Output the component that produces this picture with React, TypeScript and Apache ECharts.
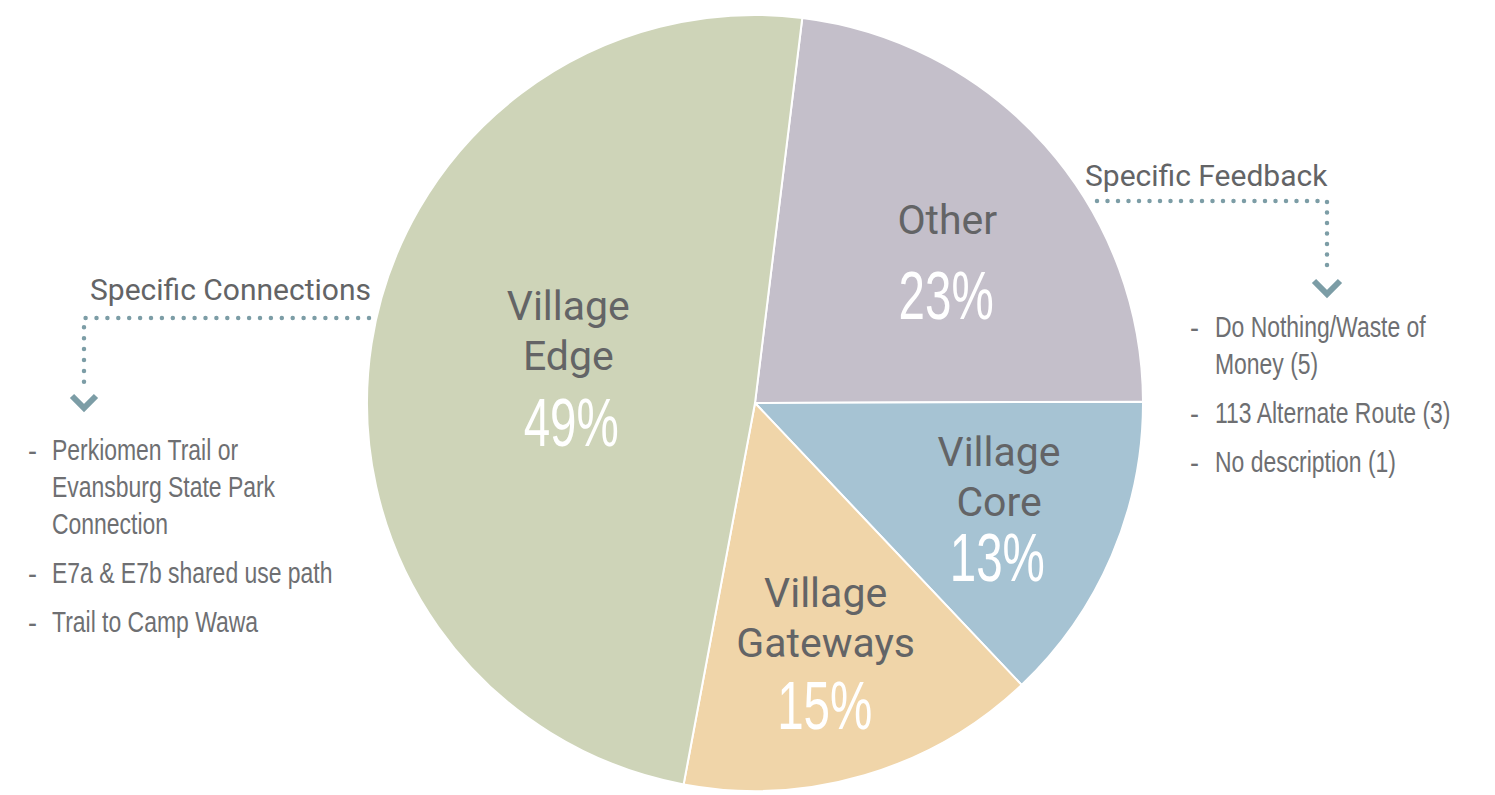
import React, { useEffect, useRef } from "react";
import * as echarts from "echarts";

// ---- data ----
const categories = ["Other", "Village Core", "Village Gateways", "Village Edge"];
const labelNameLines = [["Other"], ["Village", "Core"], ["Village", "Gateways"], ["Village", "Edge"]];
const values = [23, 13, 15, 49];
const sliceColors = ["#C4BFCA", "#A6C3D3", "#F0D5A9", "#CED4B8"];

const connectionsTitle = "Specific Connections";
const connectionsItems = [
  ["Perkiomen Trail or", "Evansburg State Park", "Connection"],
  ["E7a & E7b shared use path"],
  ["Trail to Camp Wawa"],
];
const feedbackTitle = "Specific Feedback";
const feedbackItems = [
  ["Do Nothing/Waste of", "Money (5)"],
  ["113 Alternate Route (3)"],
  ["No description (1)"],
];

// ---- layout / style (not data) ----
const PIE_CX = 755;
const PIE_CY = 403;
const PIE_R = 388;
const START_ANGLE = 83;
// shift of the name block and of the percentage from the slice's mid-radius point
const nameShift = [
  [45, -52],
  [63, -4],
  [15, 26],
  [8, -42],
];
const pctShift = [
  [46, 21],
  [64, 78],
  [15, 116],
  [8, 49],
];
const NAME_FONT = "Roboto, 'DejaVu Sans', sans-serif";
const NARROW_FONT = "'Liberation Sans', Arial, sans-serif";
const ACCENT = "#7C9DA6";
const TEXT_GRAY = "#636466";
const LIST_GRAY = "#6E6F72";

function narrowText(text: string, x: number, y: number, size: number, color: string, scaleX: number, align = "left") {
  return {
    type: "text",
    x,
    y,
    scaleX,
    z: 100,
    zlevel: 0,
    silent: true,
    style: { text, x: 0, y: 0, fontFamily: NARROW_FONT, fontSize: size, fill: color, verticalAlign: "middle", align },
  };
}

function listGraphics(items: string[][], dashX: number, textX: number, startY: number) {
  const out: any[] = [];
  let y = startY;
  items.forEach((lines, i) => {
    if (i > 0) y += 49;
    out.push(narrowText("-", dashX, y, 30, LIST_GRAY, 0.9));
    lines.forEach((ln, j) => {
      if (j > 0) y += 37;
      out.push(narrowText(ln, textX, y, 30, LIST_GRAY, 0.765));
    });
  });
  return out;
}

function percentGraphics() {
  const total = values.reduce((a, b) => a + b, 0);
  let acc = 0;
  return values.map((v, i) => {
    const midFrac = (acc + v / 2) / total;
    acc += v;
    const ang = ((START_ANGLE - midFrac * 360) * Math.PI) / 180;
    const px = PIE_CX + (PIE_R / 2) * Math.cos(ang) + pctShift[i][0];
    const py = PIE_CY - (PIE_R / 2) * Math.sin(ang) + pctShift[i][1];
    return narrowText(`${v}%`, px, py, 68, "#ffffff", 0.7, "center");
  });
}

export default function App() {
  const ref = useRef<HTMLDivElement>(null);
  useEffect(() => {
    if (!ref.current) return;
    const chart = echarts.init(ref.current, undefined, { renderer: "svg" });
    const graphics: any[] = [
      {
        type: "text",
        silent: true,
        z: 100,
        style: { text: connectionsTitle, x: 90, y: 289, fontFamily: NAME_FONT, fontSize: 30, fill: TEXT_GRAY, verticalAlign: "middle", align: "left" },
      },
      {
        type: "polyline",
        silent: true,
        z: 100,
        shape: { points: [[369, 318], [84, 318], [84, 391]] },
        style: { stroke: ACCENT, lineWidth: 4.5, lineDash: [0, 10.9], lineCap: "round", fill: null },
      },
      {
        type: "polyline",
        silent: true,
        z: 100,
        shape: { points: [[72, 396], [84, 408], [96, 396]] },
        style: { stroke: ACCENT, lineWidth: 6, fill: null },
      },
      {
        type: "text",
        silent: true,
        z: 100,
        style: { text: feedbackTitle, x: 1085, y: 175, fontFamily: NAME_FONT, fontSize: 30, fill: TEXT_GRAY, verticalAlign: "middle", align: "left" },
      },
      {
        type: "polyline",
        silent: true,
        z: 100,
        shape: { points: [[1097, 201], [1327, 201], [1327, 274]] },
        style: { stroke: ACCENT, lineWidth: 4.5, lineDash: [0, 10.5], lineCap: "round", fill: null },
      },
      {
        type: "polyline",
        silent: true,
        z: 100,
        shape: { points: [[1314, 281], [1327, 294], [1340, 281]] },
        style: { stroke: ACCENT, lineWidth: 6, fill: null },
      },
      ...listGraphics(connectionsItems, 28, 52, 450),
      ...listGraphics(feedbackItems, 1190, 1215, 327),
      ...percentGraphics(),
    ];

    chart.setOption({
      animation: false,
      backgroundColor: "#ffffff",
      series: [
        {
          type: "pie",
          z: 1,
          center: [PIE_CX, PIE_CY],
          radius: PIE_R,
          startAngle: START_ANGLE,
          clockwise: true,
          silent: true,
          emphasis: { disabled: true },
          itemStyle: { borderColor: "#ffffff", borderWidth: 2 },
          labelLine: { show: false },
          label: {
            show: true,
            position: "inside",
            textBorderWidth: 0,
            formatter: (p: any) => labelNameLines[p.dataIndex].map((l) => `{n|${l}}`).join("\n"),
            rich: {
              n: { fontFamily: NAME_FONT, fontSize: 41, color: TEXT_GRAY, lineHeight: 50, align: "center" },
            },
          },
          labelLayout: (params: any) => ({
            dx: nameShift[params.dataIndex][0],
            dy: nameShift[params.dataIndex][1],
          }),
          data: categories.map((name, i) => ({
            name,
            value: values[i],
            itemStyle: { color: sliceColors[i] },
          })),
        },
      ],
      graphic: { elements: graphics },
    });
    return () => chart.dispose();
  }, []);
  return (
    <div
      ref={ref}
      style={{ position: "absolute", left: 0, top: 0, width: 1495, height: 795 }}
    />
  );
}
